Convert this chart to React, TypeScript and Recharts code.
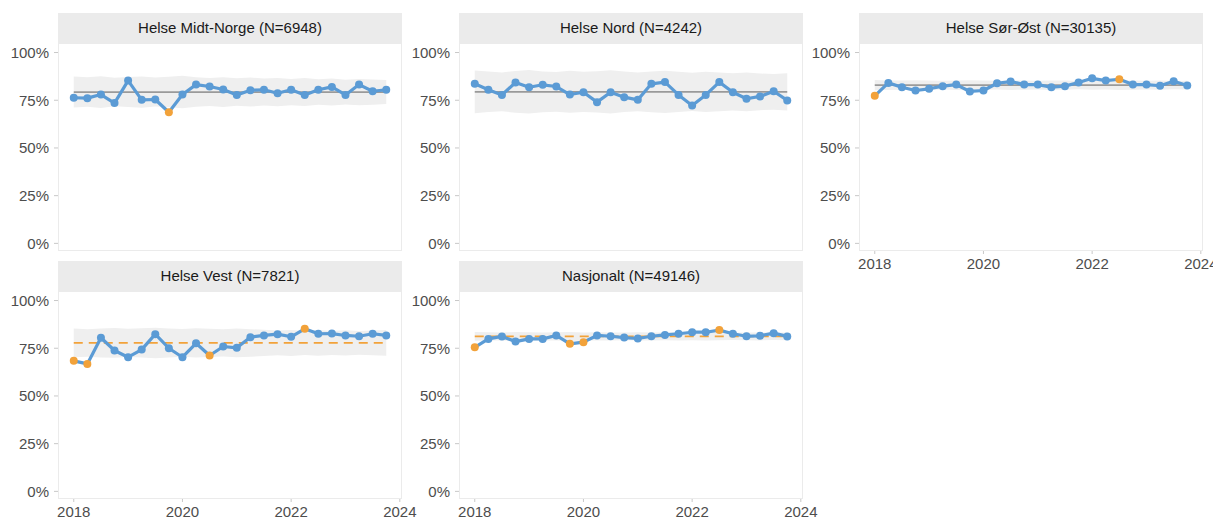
import React from 'react';
import { ComposedChart, Line, Area, XAxis, YAxis } from 'recharts';

const quarters = [
  2018, 2018.25, 2018.5, 2018.75, 2019, 2019.25, 2019.5, 2019.75,
  2020, 2020.25, 2020.5, 2020.75, 2021, 2021.25, 2021.5, 2021.75,
  2022, 2022.25, 2022.5, 2022.75, 2023, 2023.25, 2023.5, 2023.75,
];
const yearTicks = [2018, 2020, 2022, 2024];
const pctTicks = [0, 25, 50, 75, 100];

// Helse Midt-Norge
const midtValues = [76.3, 76.1, 78.0, 73.5, 85.3, 75.2, 75.4, 68.7, 78.0, 83.2, 82.2, 80.6, 77.7, 80.3, 80.5, 78.7, 80.5, 77.8, 80.5, 82.0, 77.8, 83.2, 79.7, 80.5];
const midtUcl = [87.4, 87.0, 87.6, 86.8, 87.2, 87.5, 86.9, 87.3, 87.8, 87.0, 86.6, 87.1, 86.5, 86.9, 86.4, 86.7, 86.2, 86.6, 86.0, 86.4, 85.8, 86.2, 85.9, 85.6];
const midtLcl = [71.2, 71.6, 71.0, 71.8, 71.4, 71.1, 71.7, 71.3, 70.8, 71.6, 72.0, 71.5, 72.1, 71.7, 72.2, 71.9, 72.4, 72.0, 72.6, 72.2, 72.8, 72.4, 72.7, 73.0];

// Helse Nord
const nordValues = [83.6, 80.5, 77.8, 84.3, 81.8, 83.1, 82.2, 78.0, 79.2, 74.0, 79.2, 76.6, 75.2, 83.6, 84.5, 77.8, 72.3, 77.8, 84.5, 79.2, 75.8, 77.0, 79.7, 74.9];
const nordUcl = [90.6, 90.0, 89.6, 90.3, 90.8, 90.1, 89.8, 90.4, 89.9, 90.2, 90.7, 90.0, 89.5, 90.1, 90.5, 89.9, 89.4, 89.9, 89.6, 89.2, 89.5, 89.0, 88.8, 89.2];
const nordLcl = [68.2, 68.8, 69.2, 68.5, 68.0, 68.7, 69.0, 68.4, 68.9, 68.6, 68.1, 68.8, 69.3, 68.7, 68.3, 68.9, 69.4, 68.9, 69.2, 69.6, 69.3, 69.8, 70.0, 69.6];

// Helse Sør-Øst
const sorOstValues = [77.3, 84.1, 81.8, 80.1, 81.0, 82.4, 83.2, 79.6, 80.1, 83.9, 84.8, 83.2, 83.2, 81.8, 82.4, 84.3, 86.5, 85.3, 86.0, 83.2, 83.2, 82.6, 85.0, 82.7];
const sorOstUcl = [85.6, 85.4, 85.3, 85.5, 85.4, 85.2, 85.4, 85.5, 85.3, 85.2, 85.4, 85.3, 85.2, 85.4, 85.3, 85.1, 85.3, 85.2, 85.4, 85.3, 85.2, 85.3, 85.1, 85.2];
const sorOstLcl = [80.2, 80.4, 80.5, 80.3, 80.4, 80.6, 80.4, 80.3, 80.5, 80.6, 80.4, 80.5, 80.6, 80.4, 80.5, 80.7, 80.5, 80.6, 80.4, 80.5, 80.6, 80.5, 80.7, 80.6];

// Helse Vest
const vestValues = [68.4, 66.8, 80.5, 73.8, 70.3, 74.3, 82.4, 75.0, 70.3, 77.6, 71.2, 75.9, 75.2, 80.8, 81.7, 82.4, 81.0, 85.2, 82.6, 82.7, 81.7, 81.3, 82.6, 81.7];
const vestUcl = [85.3, 85.0, 85.4, 85.6, 85.2, 85.5, 85.8, 85.4, 85.1, 85.5, 85.2, 84.9, 85.3, 85.0, 84.7, 84.3, 84.6, 84.2, 84.5, 84.1, 84.4, 84.0, 84.3, 84.5];
const vestLcl = [70.3, 70.6, 70.2, 70.0, 70.4, 70.1, 69.8, 70.2, 70.5, 70.1, 70.4, 70.7, 70.3, 70.6, 70.9, 71.3, 71.0, 71.4, 71.1, 71.5, 71.2, 71.6, 71.3, 71.1];

// Nasjonalt
const nasjValues = [75.5, 79.9, 81.2, 78.5, 79.9, 79.9, 81.7, 77.3, 78.2, 81.7, 81.3, 80.6, 80.1, 81.3, 82.0, 82.6, 83.4, 83.4, 84.5, 82.6, 81.3, 81.5, 82.9, 81.2];
const nasjUcl = [83.5, 83.4, 83.3, 83.5, 83.4, 83.3, 83.4, 83.5, 83.3, 83.4, 83.3, 83.2, 83.4, 83.3, 83.2, 83.3, 83.2, 83.3, 83.2, 83.1, 83.2, 83.3, 83.1, 83.2];
const nasjLcl = [78.9, 79.0, 79.1, 78.9, 79.0, 79.1, 79.0, 78.9, 79.1, 79.0, 79.1, 79.2, 79.0, 79.1, 79.2, 79.1, 79.2, 79.1, 79.2, 79.3, 79.2, 79.1, 79.3, 79.2];

const BLUE = '#5B9BD5';
const ORANGE = '#F2A23A';
const GREY = '#9a9a9a';
const AXIS_TEXT = '#4d4d4d';

const PANEL_W = 344;
const PLOT_H = 208;
const STRIP_H = 30;
const YAXIS_W = 50;
const RIGHT_PAD = 24;

type PanelCfg = {
  title: string;
  values: number[];
  ucl: number[];
  lcl: number[];
  cl: number;
  signals: number[];
  shift: boolean;
  left: number;
  top: number;
  showX: boolean;
};

const panels: PanelCfg[] = [
  { title: 'Helse Midt-Norge (N=6948)', values: midtValues, ucl: midtUcl, lcl: midtLcl, cl: 79.3, signals: [7], shift: false, left: 58, top: 43, showX: false },
  { title: 'Helse Nord (N=4242)', values: nordValues, ucl: nordUcl, lcl: nordLcl, cl: 79.4, signals: [], shift: false, left: 459, top: 43, showX: false },
  { title: 'Helse Sør-Øst (N=30135)', values: sorOstValues, ucl: sorOstUcl, lcl: sorOstLcl, cl: 82.9, signals: [0, 18], shift: false, left: 859, top: 43, showX: true },
  { title: 'Helse Vest (N=7821)', values: vestValues, ucl: vestUcl, lcl: vestLcl, cl: 77.8, signals: [0, 1, 10, 17], shift: true, left: 58, top: 291, showX: true },
  { title: 'Nasjonalt (N=49146)', values: nasjValues, ucl: nasjUcl, lcl: nasjLcl, cl: 81.2, signals: [0, 7, 8, 18], shift: true, left: 459, top: 291, showX: true },
];

const Panel = ({ cfg }: { cfg: PanelCfg }) => {
  const data = quarters.map((q, i) => ({
    q,
    value: cfg.values[i],
    band: [cfg.lcl[i], cfg.ucl[i]],
    cl: cfg.cl,
    signal: cfg.signals.includes(i),
  }));

  const renderDot = (props: any) => {
    const { cx, cy, payload, index } = props;
    return <circle key={`d-${index}`} cx={cx} cy={cy} r={4} fill={payload.signal ? ORANGE : BLUE} />;
  };

  return (
    <>
      <div
        style={{
          position: 'absolute',
          left: cfg.left,
          top: cfg.top - STRIP_H,
          width: PANEL_W,
          height: STRIP_H,
          background: '#ebebeb',
          color: '#1a1a1a',
          fontSize: 15,
          lineHeight: `${STRIP_H}px`,
          textAlign: 'center',
        }}
      >
        {cfg.title}
      </div>
      <div
        style={{
          position: 'absolute',
          left: cfg.left,
          top: cfg.top,
          width: PANEL_W,
          height: PLOT_H,
          boxSizing: 'border-box',
          border: '1px solid #ebebeb',
        }}
      />
      <div style={{ position: 'absolute', left: cfg.left - YAXIS_W, top: cfg.top }}>
        <ComposedChart
          width={YAXIS_W + PANEL_W + RIGHT_PAD}
          height={PLOT_H + (cfg.showX ? 28 : 0)}
          data={data}
          margin={{ top: 0, right: RIGHT_PAD, bottom: 0, left: 0 }}
          style={{ overflow: 'visible' }}
        >
          <XAxis
            dataKey="q"
            type="number"
            domain={[2017.71, 2024.04]}
            ticks={yearTicks}
            hide={!cfg.showX}
            height={28}
            axisLine={false}
            tickLine={{ stroke: '#c8c8c8' }}
            tickSize={3}
            tickMargin={4}
            tick={{ fill: AXIS_TEXT, fontSize: 15 }}
            interval={0}
          />
          <YAxis
            type="number"
            domain={[-4, 105]}
            ticks={pctTicks}
            width={YAXIS_W}
            axisLine={false}
            tickLine={{ stroke: '#c8c8c8' }}
            tickSize={4}
            tickMargin={5}
            tick={{ fill: AXIS_TEXT, fontSize: 15 }}
            tickFormatter={(v) => `${v}%`}
            interval={0}
          />
          <Area
            dataKey="band"
            type="linear"
            fill="#efefef"
            fillOpacity={1}
            stroke="none"
            isAnimationActive={false}
            activeDot={false}
          />
          <Line
            dataKey="cl"
            type="linear"
            stroke={cfg.shift ? ORANGE : GREY}
            strokeWidth={1.7}
            strokeDasharray={cfg.shift ? '9 6' : undefined}
            dot={false}
            activeDot={false}
            isAnimationActive={false}
          />
          <Line
            dataKey="value"
            type="linear"
            stroke={BLUE}
            strokeWidth={3.2}
            strokeLinejoin="round"
            dot={renderDot}
            activeDot={false}
            isAnimationActive={false}
          />
        </ComposedChart>
      </div>
    </>
  );
};

export default function App() {
  return (
    <div
      style={{
        position: 'absolute',
        left: 0,
        top: 0,
        width: 1213,
        height: 521,
        background: '#ffffff',
        fontFamily: 'Arial, "Liberation Sans", sans-serif',
        overflow: 'hidden',
      }}
    >
      {panels.map((p) => (
        <Panel key={p.title} cfg={p} />
      ))}
    </div>
  );
}
